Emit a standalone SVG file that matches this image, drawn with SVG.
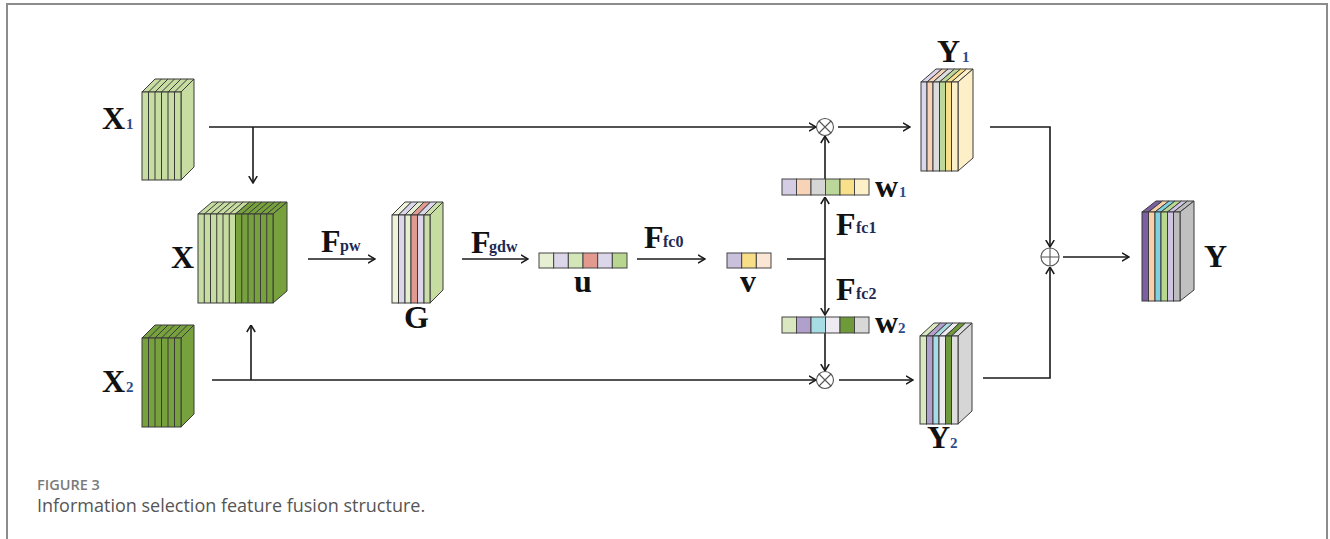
<svg xmlns="http://www.w3.org/2000/svg" width="1330" height="539" viewBox="0 0 1330 539">
<style>
.bg{fill:#ffffff}
.frame{fill:none;stroke:#8c8c8c;stroke-width:2}
.blk rect,.blk polygon{stroke:#3a3a3a;stroke-width:1}
.blk path{stroke:#3a3a3a;stroke-width:1;fill:none}
.vec rect{stroke:#444;stroke-width:1}
.lbl{font-family:"Liberation Serif","Times New Roman",serif;font-weight:bold;font-size:32px;fill:#111}
.sub{font-family:"Liberation Serif","Times New Roman",serif;font-weight:bold;font-size:16px;fill:#1c2a55}
.num{font-family:"Liberation Serif","Times New Roman",serif;font-weight:bold;font-size:15px;fill:#2b4c8c}
.con{fill:none;stroke:#1a1a1a;stroke-width:1.6}
.op{fill:#fff;stroke:#555;stroke-width:1.1}
.cap1{font-family:"Open Sans","Liberation Sans",sans-serif;font-size:14.5px;font-weight:600;fill:#7a7a7a}
.cap2{font-family:"Open Sans","Liberation Sans",sans-serif;font-size:18px;fill:#555}
</style>
<defs>
<marker id="ah" viewBox="0 0 8 10" refX="7.5" refY="5" markerWidth="8" markerHeight="10" markerUnits="userSpaceOnUse" orient="auto">
<path d="M0.5,0.8 L7.5,5 L0.5,9.2" fill="none" stroke="#1a1a1a" stroke-width="1.5"/>
</marker>
</defs>
<rect class="bg" x="0" y="0" width="1330" height="539"/>
<path class="frame" d="M7,540 V4 H1327 V540"/>

<g id="connectors">
<path class="con" d="M209,127 H816" marker-end="url(#ah)"/>
<path class="con" d="M253,127 V183" marker-end="url(#ah)"/>
<path class="con" d="M212,380 H816" marker-end="url(#ah)"/>
<path class="con" d="M251,380 V325" marker-end="url(#ah)"/>
<path class="con" d="M308,259 H375" marker-end="url(#ah)"/>
<path class="con" d="M462,259 H528" marker-end="url(#ah)"/>
<path class="con" d="M637,259 H705" marker-end="url(#ah)"/>
<path class="con" d="M787,259 H825"/>
<path class="con" d="M825,259 V197" marker-end="url(#ah)"/>
<path class="con" d="M825,259 V315" marker-end="url(#ah)"/>
<path class="con" d="M825,179 V136" marker-end="url(#ah)"/>
<path class="con" d="M825,333 V371" marker-end="url(#ah)"/>
<path class="con" d="M838,127 H910" marker-end="url(#ah)"/>
<path class="con" d="M839,380 H913" marker-end="url(#ah)"/>
<path class="con" d="M990,127 H1050 V247" marker-end="url(#ah)"/>
<path class="con" d="M983,378 H1050 V267" marker-end="url(#ah)"/>
<path class="con" d="M1063,257 H1129" marker-end="url(#ah)"/>
</g>

<g id="node-X1" class="blk">
<polygon points="142,92 155,79 194,79 181,92" fill="#c6dca0"/>
<polygon points="181,92 194,79 194,167 181,180" fill="#c6dca0"/>
<rect x="142" y="92" width="39" height="88" fill="#c6dca0"/>
<path d="M148.5,92 L161.5,79 M155,92 L168,79 M161.5,92 L174.5,79 M168,92 L181,79 M174.5,92 L187.5,79 M148.5,92 V180 M155,92 V180 M161.5,92 V180 M168,92 V180 M174.5,92 V180"/>
<text class="lbl" x="102" y="129">X</text><text class="num" x="126" y="129">1</text>
</g>

<g id="node-X2" class="blk">
<polygon points="142,338 155,325 194,325 181,338" fill="#77a13d"/>
<polygon points="181,338 194,325 194,414 181,427" fill="#77a13d"/>
<rect x="142" y="338" width="39" height="89" fill="#77a13d"/>
<path d="M148.5,338 L161.5,325 M155,338 L168,325 M161.5,338 L174.5,325 M168,338 L181,325 M174.5,338 L187.5,325 M148.5,338 V427 M155,338 V427 M161.5,338 V427 M168,338 V427 M174.5,338 V427"/>
<text class="lbl" x="102" y="392">X</text><text class="num" x="126" y="392">2</text>
</g>

<g id="node-X" class="blk">
<polygon points="198,214 212,202 249.5,202 235.5,214" fill="#c6dca0"/>
<polygon points="235.5,214 249.5,202 287,202 273,214" fill="#77a13d"/>
<polygon points="273,214 287,202 287,291 273,303" fill="#77a13d"/>
<rect x="198" y="214" width="37.5" height="89" fill="#c6dca0"/>
<rect x="235.5" y="214" width="37.5" height="89" fill="#77a13d"/>
<path d="M204.25,214 l14,-12 M210.5,214 l14,-12 M216.75,214 l14,-12 M223,214 l14,-12 M229.25,214 l14,-12 M241.75,214 l14,-12 M248,214 l14,-12 M254.25,214 l14,-12 M260.5,214 l14,-12 M266.75,214 l14,-12 M204.25,214 V303 M210.5,214 V303 M216.75,214 V303 M223,214 V303 M229.25,214 V303 M241.75,214 V303 M248,214 V303 M254.25,214 V303 M260.5,214 V303 M266.75,214 V303"/>
<text class="lbl" x="171" y="268">X</text>
</g>

<g id="node-Fpw">
<text class="lbl" x="321" y="252" font-size="31">F</text><text class="sub" x="340" y="251">pw</text>
</g>

<g id="node-G" class="blk">
<polygon points="392,215 405,202 411.5,202 398.5,215" fill="#eef3dc"/>
<polygon points="398.5,215 411.5,202 418,202 405,215" fill="#dcd6ea"/>
<polygon points="405,215 418,202 424,202 411,215" fill="#e4eed0"/>
<polygon points="411,215 424,202 430.5,202 417.5,215" fill="#e29a90"/>
<polygon points="417.5,215 430.5,202 437,202 424,215" fill="#dcd6ea"/>
<polygon points="424,215 437,202 443,202 430,215" fill="#c9dea8"/>
<polygon points="430,215 443,202 443,290 430,303" fill="#c6dca0"/>
<rect x="392" y="215" width="6.5" height="88" fill="#eef3dc"/>
<rect x="398.5" y="215" width="6.5" height="88" fill="#dcd6ea"/>
<rect x="405" y="215" width="6" height="88" fill="#e4eed0"/>
<rect x="411" y="215" width="6.5" height="88" fill="#e29a90"/>
<rect x="417.5" y="215" width="6.5" height="88" fill="#dcd6ea"/>
<rect x="424" y="215" width="6" height="88" fill="#c9dea8"/>
<text class="lbl" x="404" y="328">G</text>
</g>

<g id="node-Fgdw">
<text class="lbl" x="471" y="253" font-size="31">F</text><text class="sub" x="489" y="252">gdw</text>
</g>

<g id="node-u" class="vec">
<rect x="539" y="253" width="14.67" height="15" fill="#e6efd2"/>
<rect x="553.67" y="253" width="14.67" height="15" fill="#dcd6ea"/>
<rect x="568.33" y="253" width="14.67" height="15" fill="#d2e6b8"/>
<rect x="583" y="253" width="14.67" height="15" fill="#e29a90"/>
<rect x="597.67" y="253" width="14.67" height="15" fill="#dcd6ea"/>
<rect x="612.33" y="253" width="14.67" height="15" fill="#b8d690"/>
<text class="lbl" x="583" y="292" text-anchor="middle">u</text>
</g>

<g id="node-Ffc0">
<text class="lbl" x="644" y="248" font-size="31">F</text><text class="sub" x="663" y="247">fc0</text>
</g>

<g id="node-v" class="vec">
<rect x="727" y="253" width="14.67" height="15" fill="#c9c0dc"/>
<rect x="741.67" y="253" width="14.67" height="15" fill="#f8de86"/>
<rect x="756.33" y="253" width="14.67" height="15" fill="#fbe6d6"/>
<text class="lbl" x="748" y="292" text-anchor="middle">v</text>
</g>

<g id="node-Ffc1">
<text class="lbl" x="836" y="235" font-size="31">F</text><text class="sub" x="856" y="233">fc1</text>
</g>
<g id="node-Ffc2">
<text class="lbl" x="836" y="300" font-size="31">F</text><text class="sub" x="856" y="299">fc2</text>
</g>

<g id="node-w1" class="vec">
<rect x="782" y="179" width="14.5" height="16" fill="#d4cde3"/>
<rect x="796.5" y="179" width="14.5" height="16" fill="#f7d3b8"/>
<rect x="811" y="179" width="14.5" height="16" fill="#d6d6d6"/>
<rect x="825.5" y="179" width="14.5" height="16" fill="#bcd79a"/>
<rect x="840" y="179" width="14.5" height="16" fill="#f8e08a"/>
<rect x="854.5" y="179" width="14.5" height="16" fill="#fdf0c8"/>
<text class="lbl" x="875" y="197">w</text><text class="num" x="899" y="197">1</text>
</g>

<g id="node-w2" class="vec">
<rect x="782" y="317" width="14.5" height="16" fill="#d9e8c0"/>
<rect x="796.5" y="317" width="14.5" height="16" fill="#b2a0cc"/>
<rect x="811" y="317" width="14.5" height="16" fill="#a8dce4"/>
<rect x="825.5" y="317" width="14.5" height="16" fill="#eeeaf2"/>
<rect x="840" y="317" width="14.5" height="16" fill="#6e9a3a"/>
<rect x="854.5" y="317" width="14.5" height="16" fill="#d8d8d8"/>
<text class="lbl" x="875" y="333">w</text><text class="num" x="898" y="333">2</text>
</g>

<g id="node-mul1">
<circle class="op" cx="825" cy="127" r="8.5"/>
<path class="op" d="M819,121 L831,133 M831,121 L819,133"/>
</g>
<g id="node-mul2">
<circle class="op" cx="825" cy="380" r="8.5"/>
<path class="op" d="M819,374 L831,386 M831,374 L819,386"/>
</g>
<g id="node-add">
<circle class="op" cx="1050" cy="257" r="9"/>
<path class="op" d="M1041,257 H1059 M1050,248 V266"/>
</g>

<g id="node-Y1" class="blk">
<polygon points="921,82 936,69 942,69 927,82" fill="#dcd6ea"/>
<polygon points="927,82 942,69 948,69 933,82" fill="#f7d3b8"/>
<polygon points="933,82 948,69 954.5,69 939.5,82" fill="#dcdcdc"/>
<polygon points="939.5,82 954.5,69 960.5,69 945.5,82" fill="#bcd89a"/>
<polygon points="945.5,82 960.5,69 966.5,69 951.5,82" fill="#f8e08a"/>
<polygon points="951.5,82 966.5,69 973,69 958,82" fill="#fdf0c8"/>
<polygon points="958,82 973,69 973,158 958,171" fill="#fdf0c8"/>
<rect x="921" y="82" width="6" height="89" fill="#dcd6ea"/>
<rect x="927" y="82" width="6" height="89" fill="#f7d3b8"/>
<rect x="933" y="82" width="6.5" height="89" fill="#dcdcdc"/>
<rect x="939.5" y="82" width="6" height="89" fill="#bcd89a"/>
<rect x="945.5" y="82" width="6" height="89" fill="#f8e08a"/>
<rect x="951.5" y="82" width="6.5" height="89" fill="#fdf0c8"/>
<text class="lbl" x="937" y="62">Y</text><text class="num" x="962" y="62">1</text>
</g>

<g id="node-Y2" class="blk">
<polygon points="920,336 934,323 940.5,323 926.5,336" fill="#d9e8c0"/>
<polygon points="926.5,336 940.5,323 947,323 933,336" fill="#b2a0cc"/>
<polygon points="933,336 947,323 953,323 939,336" fill="#a8dce4"/>
<polygon points="939,336 953,323 959.5,323 945.5,336" fill="#eeeaf2"/>
<polygon points="945.5,336 959.5,323 965.5,323 951.5,336" fill="#6e9a3a"/>
<polygon points="951.5,336 965.5,323 972,323 958,336" fill="#dedede"/>
<polygon points="958,336 972,323 972,411 958,424" fill="#d6d6d6"/>
<rect x="920" y="336" width="6.5" height="88" fill="#d9e8c0"/>
<rect x="926.5" y="336" width="6.5" height="88" fill="#b2a0cc"/>
<rect x="933" y="336" width="6" height="88" fill="#a8dce4"/>
<rect x="939" y="336" width="6.5" height="88" fill="#eeeaf2"/>
<rect x="945.5" y="336" width="6" height="88" fill="#6e9a3a"/>
<rect x="951.5" y="336" width="6.5" height="88" fill="#dedede"/>
<text class="lbl" x="927" y="448">Y</text><text class="num" x="950" y="448">2</text>
</g>

<g id="node-Y" class="blk">
<polygon points="1142,212 1156,201 1162.5,201 1148.5,212" fill="#7b5fa0"/>
<polygon points="1148.5,212 1162.5,201 1169,201 1155,212" fill="#f9cfa8"/>
<polygon points="1155,212 1169,201 1175,201 1161,212" fill="#7fd0e0"/>
<polygon points="1161,212 1175,201 1181.5,201 1167.5,212" fill="#b8d890"/>
<polygon points="1167.5,212 1181.5,201 1187.5,201 1173.5,212" fill="#d0c4e4"/>
<polygon points="1173.5,212 1187.5,201 1194,201 1180,212" fill="#bdbdbd"/>
<polygon points="1180,212 1194,201 1194,290 1180,301" fill="#c0c0c0"/>
<rect x="1142" y="212" width="6.5" height="89" fill="#7b5fa0"/>
<rect x="1148.5" y="212" width="6.5" height="89" fill="#f9cfa8"/>
<rect x="1155" y="212" width="6" height="89" fill="#7fd0e0"/>
<rect x="1161" y="212" width="6.5" height="89" fill="#b8d890"/>
<rect x="1167.5" y="212" width="6" height="89" fill="#d0c4e4"/>
<rect x="1173.5" y="212" width="6.5" height="89" fill="#bdbdbd"/>
<text class="lbl" x="1204" y="267">Y</text>
</g>

<g id="caption">
<text class="cap1" x="37" y="490">FIGURE 3</text>
<text class="cap2" x="37" y="512">Information selection feature fusion structure.</text>
</g>
</svg>
